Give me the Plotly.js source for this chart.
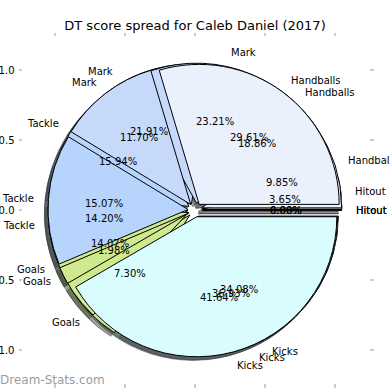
<!DOCTYPE html>
<html>
<head>
<meta charset="utf-8">
<script src="https://cdn.plot.ly/plotly-3.0.1.min.js"></script>
<style>
html,body{margin:0;padding:0;background:#ffffff;}
#chart{width:390px;height:390px;}
</style>
</head>
<body>
<div id="chart"></div>
<script>
// ---- data (percent share of DT score per category, one array per pie) ----
const categories = ['Kicks', 'Goals', 'Tackle', 'Mark', 'Handballs', 'Hitout'];
const seriesA = [34.08, 7.30, 14.20, 21.91, 18.86, 3.65];
const seriesB = [36.93, 14.07, 15.94, 23.21, 9.85, 0.00];
const seriesC = [41.64, 1.98, 15.07, 11.70, 29.61, 0.00];
const sliceColors = ['#d9fcff', '#cfe98f', '#b7d5fc', '#c6d9fb', '#eaf1fd', '#dde3ee'];
const tickValues = [-1, -0.5, 0, 0.5, 1];
const titleText = 'DT score spread for Caleb Daniel (2017)';
const watermark = 'Dream-Stats.com';

// ---- layout constants ----
const W = 390, H = 390;
const margin = {l: 23, r: 21, t: 37, b: 7};
const xRange = [-1.2286, 1.2429];
const yRange = [-1.2357, 1.2357];
const RADIUS = 1, EXPLODE = 0.05, SHADOW = 0.026, LABEL_DIST = 1.1, PCT_DIST = 0.6;
const FONT = 'DejaVu Sans, Verdana, sans-serif';

function shadowColor(hex) {
  const r = parseInt(hex.slice(1, 3), 16), g = parseInt(hex.slice(3, 5), 16), b = parseInt(hex.slice(5, 7), 16);
  return 'rgba(' + Math.round(r * 0.3) + ',' + Math.round(g * 0.3) + ',' + Math.round(b * 0.3) + ',0.5)';
}

function domainFor(dx, dy) {
  const wx = xRange[1] - xRange[0], wy = yRange[1] - yRange[0];
  const cx = (dx - xRange[0]) / wx, cy = (dy - yRange[0]) / wy;
  const hx = (1 + EXPLODE) * RADIUS / wx, hy = (1 + EXPLODE) * RADIUS / wy;
  return {x: [cx - hx, cx + hx], y: [cy - hy, cy + hy]};
}

function pieTrace(values, colors, dom, line) {
  return {
    type: 'pie', values: values, labels: categories, sort: false,
    direction: 'clockwise', rotation: 90,
    pull: values.map(() => EXPLODE),
    marker: {colors: colors, line: line},
    textinfo: 'none', hoverinfo: 'none', showlegend: false,
    domain: dom
  };
}

const allSeries = [seriesA, seriesB, seriesC];
const shadowCols = sliceColors.map(shadowColor);
const traces = [{type: 'scatter', x: [], y: [], mode: 'markers', hoverinfo: 'skip', showlegend: false}];
allSeries.forEach(s => traces.push(pieTrace(s, shadowCols, domainFor(-SHADOW, -SHADOW), {color: shadowCols, width: 1})));
allSeries.forEach(s => traces.push(pieTrace(s, sliceColors, domainFor(0, 0), {color: '#000000', width: 1})));

// ---- labels, placed like matplotlib's pie texts ----
const annotations = [];
const labelFont = {family: FONT, size: 10, color: '#000000'};
allSeries.forEach(s => {
  const total = s.reduce((a, b) => a + b, 0);
  let cum = 0;
  s.forEach((v, i) => {
    const ang = v / total * 360;
    const mid = -(cum + ang / 2) * Math.PI / 180;
    cum += ang;
    const lx = Math.cos(mid) * (EXPLODE + LABEL_DIST) * RADIUS;
    const ly = Math.sin(mid) * (EXPLODE + LABEL_DIST) * RADIUS;
    annotations.push({x: lx, y: ly, xref: 'x', yref: 'y', text: categories[i], showarrow: false,
      xanchor: lx > 0 ? 'left' : 'right', yanchor: 'middle', font: labelFont, borderpad: 0, borderwidth: 0});
    const px = Math.cos(mid) * (EXPLODE + PCT_DIST) * RADIUS;
    const py = Math.sin(mid) * (EXPLODE + PCT_DIST) * RADIUS;
    annotations.push({x: px, y: py, xref: 'x', yref: 'y', text: (v / total * 100).toFixed(2) + '%', showarrow: false,
      xanchor: 'center', yanchor: 'middle', font: labelFont, borderpad: 0, borderwidth: 0});
  });
});

const pw = W - margin.l - margin.r, ph = H - margin.t - margin.b;
annotations.push({xref: 'paper', yref: 'paper', x: (0 - margin.l) / pw, y: ((H - margin.b) - 380) / ph,
  xanchor: 'left', yanchor: 'middle', text: watermark, showarrow: false, borderpad: 0, borderwidth: 0,
  font: {family: FONT, size: 12, color: 'rgba(110,110,110,0.7)'}});

const axisCommon = {
  tickvals: tickValues, tickformat: '.1f', showgrid: false, zeroline: false, showline: false,
  ticks: 'outside', ticklen: 3.5, tickwidth: 1.5, tickcolor: '#cccccc', mirror: 'ticks',
  tickfont: {family: FONT, size: 10, color: '#000000'}, fixedrange: true
};

const layout = {
  width: W, height: H, margin: margin, showlegend: false,
  paper_bgcolor: '#ffffff', plot_bgcolor: '#ffffff',
  title: {text: titleText, font: {family: FONT, size: 13, color: '#000000'},
    xref: 'container', x: 0.5, xanchor: 'center', yref: 'container', y: 1 - 25.5 / H, yanchor: 'middle'},
  xaxis: Object.assign({range: xRange, domain: [0, 1]}, axisCommon),
  yaxis: Object.assign({range: yRange, domain: [0, 1], ticklabelstandoff: 2}, axisCommon),
  annotations: annotations
};

Plotly.newPlot('chart', traces, layout, {staticPlot: true, displayModeBar: false});
</script>
</body>
</html>
